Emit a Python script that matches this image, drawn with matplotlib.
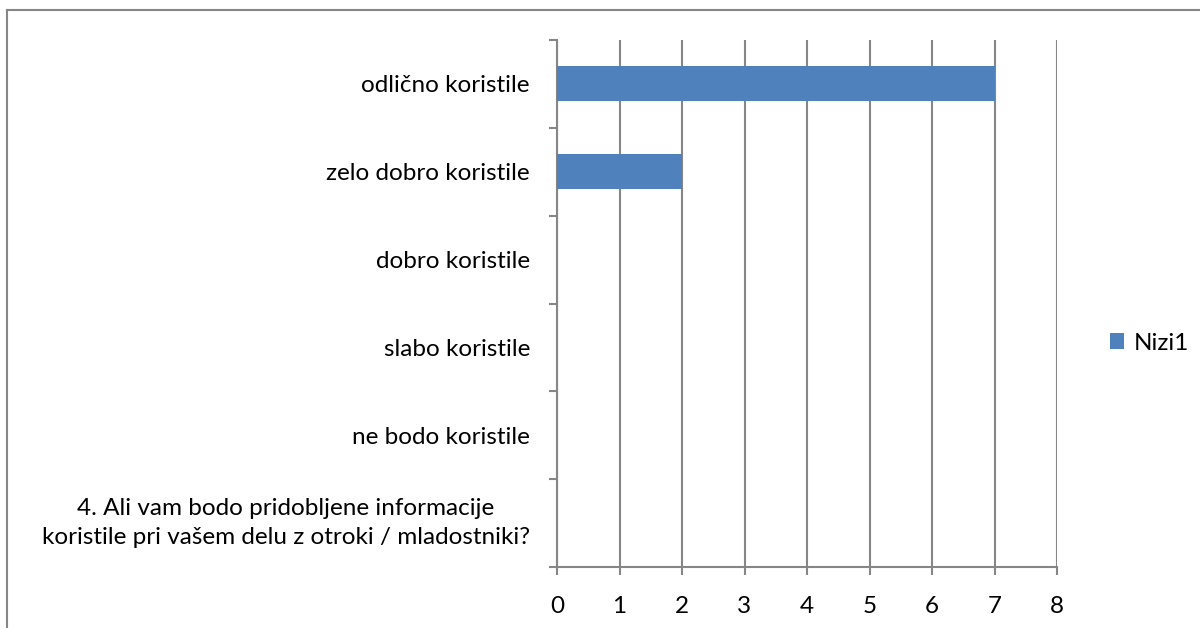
import matplotlib.pyplot as plt
from matplotlib.lines import Line2D

categories = [
    'odlično koristile',
    'zelo dobro koristile',
    'dobro koristile',
    'slabo koristile',
    'ne bodo koristile',
    '4. Ali vam bodo pridobljene informacije\nkoristile pri vašem delu z otroki / mladostniki?',
]
values = [7, 2, 0, 0, 0, 0]
x_ticks = [0, 1, 2, 3, 4, 5, 6, 7, 8]
series_name = 'Nizi1'

bar_color = '#4F81BD'
grid_color = '#868686'
font_size = 17.5

plt.rcParams['font.family'] = ['Lato', 'DejaVu Sans']

fig = plt.figure(figsize=(12, 6.28), dpi=100)
ax = fig.add_axes([557 / 1200, 1 - 567 / 628, 500 / 1200, 527 / 628])

# categories go top to bottom
positions = [len(categories) - 1 - i + 0.5 for i in range(len(categories))]
ax.barh(positions, values, height=0.4, color=bar_color, label=series_name, zorder=3)

ax.set_xlim(0, 8)
ax.set_ylim(0, len(categories))
ax.set_xticks(x_ticks)
ax.set_xticklabels([str(t) for t in x_ticks], fontsize=font_size)

ax.set_yticks(range(len(categories) + 1))
ax.set_yticklabels([])
ax.set_yticks(positions, minor=True)
labels = ax.set_yticklabels(categories, minor=True, fontsize=font_size,
                            multialignment='center', linespacing=1.5)
labels[-1].set_verticalalignment('center')

ax.tick_params(axis='y', which='major', length=6, width=1.5, color=grid_color, direction='out')
ax.tick_params(axis='y', which='minor', length=0, pad=19.5)
ax.tick_params(axis='x', length=6, width=1.5, color=grid_color, pad=15)

ax.grid(axis='x', color=grid_color, linewidth=1.5, zorder=0)
for side in ['top', 'right']:
    ax.spines[side].set_visible(False)
for side in ['left', 'bottom']:
    ax.spines[side].set_color(grid_color)
    ax.spines[side].set_linewidth(1.5)

leg = fig.legend(loc='center left', bbox_to_anchor=(1088 / 1200, 1 - 343 / 628),
                 frameon=False, fontsize=font_size, handlelength=0.6, handleheight=0.6,
                 handletextpad=0.4)

# outer chart border (left and top edges visible)
fig.add_artist(Line2D([6.5 / 1200, 6.5 / 1200], [0, 1 - 9.5 / 628], color=grid_color,
                      linewidth=1.5, transform=fig.transFigure))
fig.add_artist(Line2D([6.5 / 1200, 1], [1 - 9.5 / 628, 1 - 9.5 / 628], color=grid_color,
                      linewidth=1.5, transform=fig.transFigure))

fig.savefig('out.png', dpi=100)
